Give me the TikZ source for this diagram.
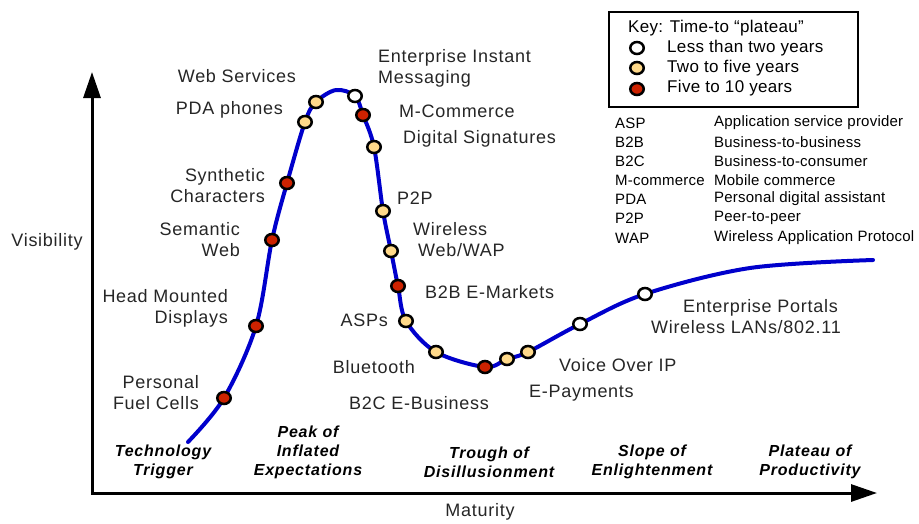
\documentclass[tikz,border=0pt]{standalone}
\usepackage{fontspec}
\setmainfont{Liberation Sans}
\usetikzlibrary{arrows.meta,shapes.geometric}
\definecolor{curveblue}{RGB}{0,0,204}
\definecolor{dotred}{RGB}{204,34,0}
\definecolor{dotyellow}{RGB}{255,217,138}
\tikzset{
  hype/.style={curveblue, line width=4pt, line cap=round},
  dot/.style={ellipse, draw=black, line width=2.5pt, minimum width=13.5pt,
    minimum height=12pt, inner sep=0pt},
  dotsoon/.style={dot, fill=white},
  dotmid/.style={dot, fill=dotyellow},
  dotlate/.style={dot, fill=dotred},
  lbl/.style={inner sep=0pt, text=black!85,
    font=\fontsize{18}{21}\selectfont\addfontfeatures{LetterSpace=4}},
  stage/.style={inner sep=0pt, align=center,
    font=\fontsize{16}{19}\selectfont\bfseries\itshape\addfontfeatures{LetterSpace=5}},
  keytext/.style={inner sep=0pt, anchor=west,
    font=\fontsize{17}{20}\selectfont\addfontfeatures{LetterSpace=2}},
  glos/.style={inner sep=0pt, anchor=west,
    font=\fontsize{15}{18}\selectfont\addfontfeatures{LetterSpace=1.5}}
}
\begin{document}
\begin{tikzpicture}[x=1pt, y=-1pt]
    \useasboundingbox[fill=white] (0,0) rectangle (919,523);
    % Оси
    \coordinate (ytip) at (92,72);
    \coordinate (origin) at (92,493);
    \coordinate (xtip) at (877,493);
    \draw[line width=3pt, line join=miter,
      {Triangle[length=26pt,width=17pt]}-{Triangle[length=26pt,width=17pt]}]
      (ytip) -- (origin) -- (xtip);
    \node[lbl] (vis) at (47,242) {Visibility};
    \node[lbl] (mat) at (480,512) {Maturity};

    % Точки кривой
    \coordinate (start) at (188,442);
    \coordinate (fuel) at (224,398);
    \coordinate (hmd) at (256,326);
    \coordinate (semweb) at (272,240);
    \coordinate (synth) at (287,183);
    \coordinate (pda) at (305,122);
    \coordinate (websvc) at (316,102);
    \coordinate (peak) at (336,90);
    \coordinate (eim) at (355,96);
    \coordinate (mcom) at (363,115);
    \coordinate (digsig) at (374,147);
    \coordinate (ptp) at (383,211);
    \coordinate (wap) at (391,251);
    \coordinate (btb) at (398,286);
    \coordinate (asp) at (406,321);
    \coordinate (blue) at (436,352);
    \coordinate (btc) at (485,367);
    \coordinate (epayA) at (507,359);
    \coordinate (epayB) at (528,352);
    \coordinate (voip) at (580,324);
    \coordinate (portal) at (645,294);
    \coordinate (slope) at (750,268);
    \coordinate (finish) at (873,260);

    % Кривая
    \draw[hype] plot[smooth, tension=0.55] coordinates {(start) (fuel) (hmd)
      (semweb) (synth) (pda) (websvc) (peak) (eim) (mcom) (digsig) (ptp) (wap)
      (btb) (asp) (blue) (btc) (epayA) (epayB) (voip) (portal) (slope) (finish)};

    \node[dotlate] (fuel dot) at (fuel) {};
    \node[dotlate] (hmd dot) at (hmd) {};
    \node[dotlate] (semweb dot) at (semweb) {};
    \node[dotlate] (synth dot) at (synth) {};
    \node[dotmid] (pda dot) at (pda) {};
    \node[dotmid] (websvc dot) at (websvc) {};
    \node[dotsoon] (eim dot) at (eim) {};
    \node[dotlate] (mcom dot) at (mcom) {};
    \node[dotmid] (digsig dot) at (digsig) {};
    \node[dotmid] (ptp dot) at (ptp) {};
    \node[dotmid] (wap dot) at (wap) {};
    \node[dotlate] (btb dot) at (btb) {};
    \node[dotmid] (asp dot) at (asp) {};
    \node[dotmid] (blue dot) at (blue) {};
    \node[dotlate] (btc dot) at (btc) {};
    \node[dotmid] (epayA dot) at (epayA) {};
    \node[dotmid] (epayB dot) at (epayB) {};
    \node[dotsoon] (voip dot) at (voip) {};
    \node[dotsoon] (portal dot) at (portal) {};

    % Подписи
    \node[lbl, anchor=east, align=right] (fuel txt) at (199,393) {Personal\\Fuel Cells};
    \node[lbl, anchor=east, align=right] (hmd txt) at (228,308) {Head Mounted\\Displays};
    \node[lbl, anchor=east, align=right] (semweb txt) at (240,240) {Semantic\\Web};
    \node[lbl, anchor=east, align=right] (synth txt) at (265,186) {Synthetic\\Characters};
    \node[lbl, anchor=east] (pda txt) at (283,110) {PDA phones};
    \node[lbl, anchor=east] (websvc txt) at (296,76) {Web Services};
    \node[lbl, anchor=west, align=left] (eim txt) at (378,68) {Enterprise Instant\\Messaging};
    \node[lbl, anchor=west] (mcom txt) at (399,111) {M-Commerce};
    \node[lbl, anchor=west] (digsig txt) at (403,139) {Digital Signatures};
    \node[lbl, anchor=west] (ptp txt) at (397,198) {P2P};
    \node[lbl, anchor=west, align=left] (wap txt) at (413,240) {Wireless\\\hspace*{5pt}Web/WAP};
    \node[lbl, anchor=west] (btb txt) at (425,292) {B2B E-Markets};
    \node[lbl, anchor=east] (asp txt) at (388,320) {ASPs};
    \node[lbl, anchor=east] (blue txt) at (415,367) {Bluetooth};
    \node[lbl, anchor=west] (btc txt) at (349,403) {B2C E-Business};
    \node[lbl, anchor=west] (epay txt) at (529,393) {E-Payments};
    \node[lbl, anchor=west] (voip txt) at (559,365) {Voice Over IP};
    \node[lbl, anchor=east, align=right] (portal txt) at (841,317) {Enterprise Portals\hspace*{3pt}\\Wireless LANs/802.11};

    % Фазы
    \node[stage] (trigger) at (163,462) {Technology\\Trigger};
    \node[stage] (inflated) at (308,452) {Peak of\\Inflated\\Expectations};
    \node[stage] (trough) at (489,462) {Trough of\\Disillusionment};
    \node[stage] (enlight) at (652,462) {Slope of\\Enlightenment};
    \node[stage] (product) at (810,462) {Plateau of\\Productivity};

    % Легенда
    \draw[line width=2.5pt] (609,12) rectangle (858,107);
    \node[keytext] (key) at (628,28) {Key: Time-to “plateau”};
    \node[dotsoon] (key soon) at (637,48) {};
    \node[dotmid] (key mid) at (637,68) {};
    \node[dotlate] (key late) at (637,89) {};
    \node[keytext] (soon txt) at (667,48) {Less than two years};
    \node[keytext] (mid txt) at (667,68) {Two to five years};
    \node[keytext] (late txt) at (667,88) {Five to 10 years};

    % Сокращения
    \node[glos] (g1) at (615,123) {ASP};
    \node[glos] (g2) at (615,142) {B2B};
    \node[glos] (g3) at (615,161) {B2C};
    \node[glos] (g4) at (615,180) {M-commerce};
    \node[glos] (g5) at (615,199) {PDA};
    \node[glos] (g6) at (615,218) {P2P};
    \node[glos] (g7) at (615,238) {WAP};
    \node[glos] (d1) at (714,123) {Application service provider};
    \node[glos] (d2) at (714,142) {Business-to-business};
    \node[glos] (d3) at (714,161) {Business-to-consumer};
    \node[glos] (d4) at (714,180) {Mobile commerce};
    \node[glos] (d5) at (714,199) {Personal digital assistant};
    \node[glos] (d6) at (714,218) {Peer-to-peer};
    \node[glos] (d7) at (714,238) {Wireless Application Protocol};
\end{tikzpicture}
\end{document}
